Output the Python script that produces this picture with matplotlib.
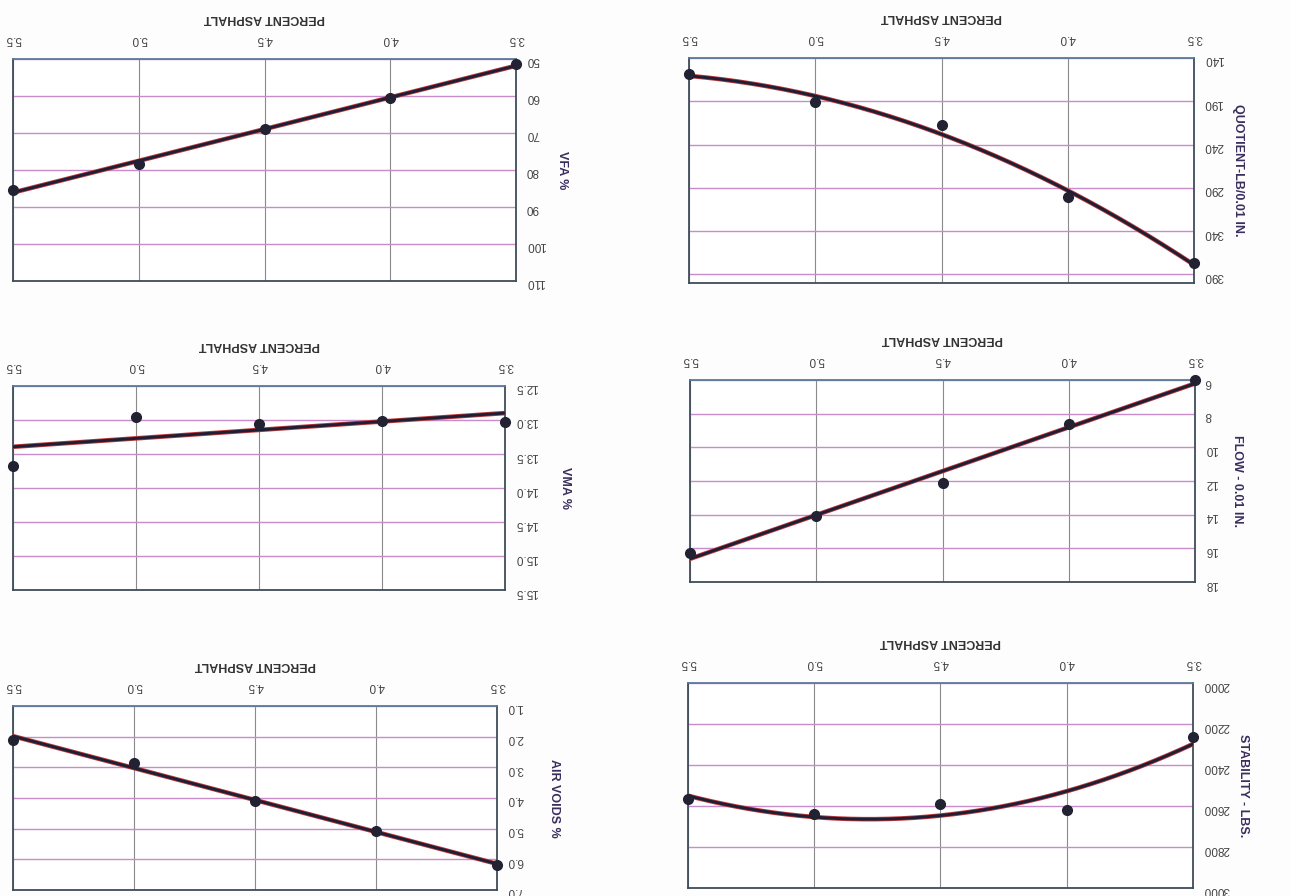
import numpy as np
import matplotlib.pyplot as plt

plt.rcParams['font.family'] = ['Liberation Sans', 'DejaVu Sans']

# percent asphalt for every test point
asphalt = [3.5, 4.0, 4.5, 5.0, 5.5]
asphalt_ticks = [3.5, 4.0, 4.5, 5.0, 5.5]

# measured values (read from the scanned sheet)
stability = [2262, 2617, 2592, 2637, 2567]
flow = [6.0, 8.6, 12.1, 14.05, 16.3]
quotient = [377, 301, 217, 191, 159]
air_voids = [6.2, 5.07, 4.1, 2.86, 2.1]
vma = [13.03, 13.01, 13.06, 12.95, 13.68]
vfa = [51.4, 60.6, 69.0, 78.5, 85.3]

stability_ticks = [2000, 2200, 2400, 2600, 2800, 3000]
flow_ticks = [6, 8, 10, 12, 14, 16, 18]
quotient_ticks = [140, 190, 240, 290, 340, 390]
air_ticks = [1.0, 2.0, 3.0, 4.0, 5.0, 6.0, 7.0]
vma_ticks = [12.5, 13.0, 13.5, 14.0, 14.5, 15.0, 15.5]
vfa_ticks = [50, 60, 70, 80, 90, 100, 110]

# the sheet was scanned upside down, so every panel is drawn rotated 180 deg
panels = [
    # rect, values, fit degree, ticks, ylim, fmt, label, label x
    ([0.0101, 0.6864, 0.3900, 0.2478], vfa, 1, vfa_ticks, (50, 110), '{:.0f}', 'VFA %', 1.103),
    ([0.5341, 0.6842, 0.3915, 0.2511], quotient, 2, quotient_ticks, (140, 400), '{:.0f}', 'QUOTIENT-LB/0.01 IN.', 1.098),
    ([0.0101, 0.3415, 0.3814, 0.2277], vma, 1, vma_ticks, (12.5, 15.5), '{:.1f}', 'VMA %', 1.135),
    ([0.5349, 0.3504, 0.3915, 0.2254], flow, 1, flow_ticks, (6, 18), '{:.0f}', 'FLOW - 0.01 IN.', 1.095),
    ([0.0101, 0.0067, 0.3752, 0.2054], air_voids, 1, air_ticks, (1.0, 7.0), '{:.1f}', 'AIR VOIDS %', 1.13),
    ([0.5333, 0.0089, 0.3915, 0.2288], stability, 2, stability_ticks, (2000, 3000), '{:.0f}', 'STABILITY - LBS.', 1.11),
]

fig = plt.figure(figsize=(12.9, 8.96), dpi=100)
fig.patch.set_facecolor('#fdfdfd')

xs = np.linspace(min(asphalt), max(asphalt), 200)

for rect, vals, deg, ticks, lims, fmt, label, lx in panels:
    ax = fig.add_axes(rect)
    ax.set_facecolor('white')

    # excel-style trendline through the points
    coef = np.polyfit(asphalt, vals, deg)
    ax.plot(xs, np.polyval(coef, xs), color='#c03a3a', lw=3.3, zorder=3)
    ax.plot(xs, np.polyval(coef, xs), color='#1e1e36', lw=2.1, zorder=4)
    ax.plot(asphalt, vals, 'o', color='#222233', ms=7, zorder=5, clip_on=False)

    ax.set_xlim(5.5, 3.5)
    ax.set_ylim(lims[1], lims[0])
    ax.set_xticks(asphalt_ticks)
    ax.set_xticklabels(['{:.1f}'.format(t) for t in asphalt_ticks])
    ax.set_yticks(ticks)
    ax.set_yticklabels([fmt.format(t) for t in ticks])

    ax.xaxis.tick_top()
    ax.yaxis.tick_right()
    ax.tick_params(axis='both', length=0, labelsize=8.5, labelcolor='#444444', labelrotation=180)
    ax.tick_params(axis='x', pad=10)
    ax.tick_params(axis='y', pad=7)

    ax.grid(axis='y', color='#c98ccb', lw=1.0)
    ax.grid(axis='x', color='#8a8a8a', lw=0.8)
    ax.set_axisbelow(True)

    for side, sp in ax.spines.items():
        sp.set_linewidth(1.3)
        sp.set_color('#3f4d5a')
    ax.spines['top'].set_color('#5a7a9a')

    ax.xaxis.set_label_position('top')
    ax.set_xlabel('PERCENT ASPHALT', rotation=180, fontsize=9, fontweight='bold',
                  color='#333333', labelpad=9)
    ax.yaxis.set_label_position('right')
    ax.set_ylabel(label, rotation=270, fontsize=9, fontweight='bold', color='#3a2e5e')
    ax.yaxis.set_label_coords(lx, 0.5)

fig.savefig('out.png', dpi=100, facecolor=fig.get_facecolor())
